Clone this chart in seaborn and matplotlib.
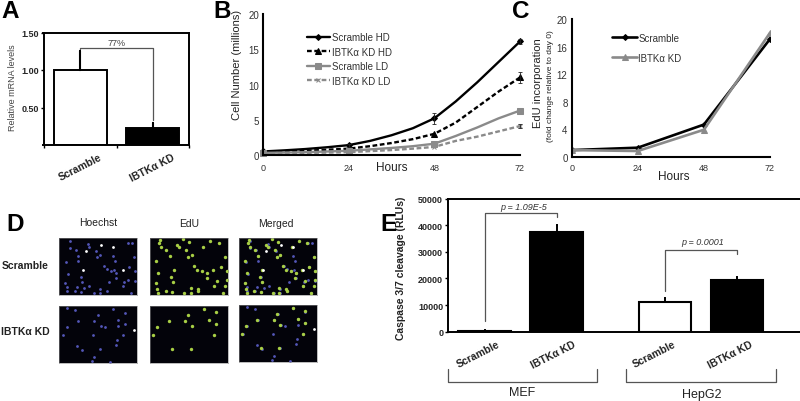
#!/usr/bin/env python3
# -*- coding: utf-8 -*-

import matplotlib
matplotlib.use("Agg")
import matplotlib.pyplot as plt
from matplotlib.lines import Line2D
import seaborn as sns

# panel A
a_labels = ["Scramble", "IBTKα KD"]
a_values = [1.00, 0.23]
a_errors = [0.25, 0.07]

# panel B, values read at 6 h steps so the curved lines follow the picture
b_hours = [0, 6, 12, 18, 24, 30, 36, 42, 48, 54, 60, 66, 72]
b_scr_hd = [0.5, 0.66, 0.85, 1.1, 1.4, 2.0, 2.8, 3.8, 5.2, 7.6, 10.3, 13.2, 16.1]
b_kd_hd = [0.4, 0.5, 0.6, 0.75, 0.9, 1.25, 1.7, 2.25, 3.0, 4.6, 6.8, 9.0, 11.0]
b_scr_ld = [0.3, 0.35, 0.4, 0.5, 0.6, 0.8, 1.0, 1.25, 1.6, 2.7, 3.9, 5.2, 6.3]
b_kd_ld = [0.2, 0.25, 0.3, 0.35, 0.4, 0.55, 0.7, 0.9, 1.15, 2.0, 2.6, 3.35, 4.1]
b_err_hours = [24, 48, 72, 72, 72]
b_err_values = [1.4, 5.2, 16.1, 11.0, 4.1]
b_err_sizes = [0.2, 0.8, 0.3, 0.8, 0.3]

# panel C
c_hours = [0, 24, 48, 72]
c_scramble = [1.0, 1.35, 4.7, 17.1]
c_kd = [1.0, 0.87, 3.95, 18.0]

# panel D, nuclei
d_hoechst_scr = [(45, 22), (45, 42), (63, 48), (97, 30), (100, 38), (122, 50), (217, 28), (230, 28),
                 (70, 65), (68, 80), (125, 70), (135, 63), (172, 67), (178, 80), (237, 68), (33, 83),
                 (145, 97), (155, 105), (168, 112), (177, 108), (183, 118), (222, 98), (240, 110),
                 (40, 120), (78, 128), (82, 143), (182, 133), (160, 143), (218, 138), (207, 145),
                 (203, 157), (30, 148), (35, 160), (65, 158), (87, 162), (100, 155), (37, 170),
                 (60, 172), (78, 175), (115, 178), (133, 165), (135, 178), (155, 170), (228, 178),
                 (240, 140)]
d_hoechst_scr_bright = [(92, 50), (138, 32), (83, 108), (203, 108), (173, 38)]
d_edu_scr = [(42, 18), (38, 28), (45, 40), (60, 48), (70, 65), (93, 32), (97, 40), (118, 48),
             (128, 25), (110, 15), (170, 38), (190, 22), (215, 27), (235, 68), (125, 70), (135, 63),
             (30, 82), (82, 108), (143, 97), (152, 107), (167, 112), (182, 118), (200, 108),
             (222, 98), (240, 110), (75, 128), (80, 143), (36, 118), (180, 133), (240, 138),
             (210, 140), (203, 157), (30, 148), (33, 166), (35, 178), (58, 172), (78, 175),
             (113, 178), (132, 163), (132, 178), (153, 165), (155, 172), (235, 155), (228, 178)]
d_hoechst_kd = [(35, 18), (60, 25), (127, 38), (173, 22), (210, 32), (68, 58), (115, 58), (188, 53),
                (210, 65), (35, 75), (137, 73), (148, 75), (187, 73), (25, 100), (113, 100),
                (203, 100), (185, 115), (183, 130), (65, 132), (80, 143), (133, 140), (115, 165),
                (110, 176), (165, 180)]
d_hoechst_kd_bright = [(237, 85)]
d_edu_kd = [(125, 38), (173, 20), (208, 30), (67, 58), (115, 58), (188, 53), (208, 66), (33, 74),
            (135, 73), (22, 100), (202, 98), (78, 142), (132, 140)]

# panel E
e_groups = ["Scramble", "IBTKα KD", "Scramble", "IBTKα KD"]
e_slots = [0, 1, 2.5, 3.5]
e_values = [100, 37300, 11200, 19300]
e_errors = [700, 2700, 1300, 1300]

W, H = 800, 402
GRAY = "#8a8a8a"
DGRAY = "#555555"
BLUE = "#5356b8"
GREEN = "#a8cf45"
SHORT_DASH = (0, (2.0, 1.1))

sns.set_theme(style="white")
plt.rcParams["font.family"] = ["Liberation Sans", "DejaVu Sans"]
plt.rcParams["xtick.bottom"] = True
plt.rcParams["ytick.left"] = True

fig = plt.figure(figsize=(W / 100, H / 100), dpi=100, facecolor="white")


def axes_px(left, top, right, bottom):
    return fig.add_axes([left / W, 1 - bottom / H, (right - left) / W, (bottom - top) / H])


def text_px(x, y, s, size=7, **kw):
    kw.setdefault("ha", "center")
    kw.setdefault("va", "center")
    kw.setdefault("color", "#222222")
    fig.text(x / W, 1 - y / H, s, fontsize=size, **kw)


def line_px(xs, ys, color=DGRAY, lw=0.9):
    fig.add_artist(Line2D([x / W for x in xs], [1 - y / H for y in ys], color=color, lw=lw))


def style_spines(ax, lw, sides=("left", "bottom")):
    for name, spine in ax.spines.items():
        spine.set_visible(name in sides)
        spine.set_linewidth(lw)
        spine.set_color("black")


# =========================
# A
# =========================
ax = axes_px(43.5, 33.5, 189, 146)
sns.barplot(x=a_labels, y=a_values, hue=a_labels, palette=["white", "black"], width=0.73,
            edgecolor="black", linewidth=1.4, legend=False, ax=ax)
ax.errorbar([0, 1], a_values, yerr=[[0, 0], a_errors], fmt="none", ecolor="black", elinewidth=1.5,
            capsize=1, capthick=1.5)
ax.set_xlim(-0.51, 1.5)
ax.set_ylim(0, 1.5)
ax.set_yticks([0.5, 1.0, 1.5], ["0.50", "1.00", "1.50"], fontsize=6.5, fontweight="bold")
ax.set_xticks([-0.5, 0.5, 1.5], ["", "", ""])
ax.tick_params(length=2, width=1, pad=1.5, color="black")
style_spines(ax, 1.4, ("left", "bottom", "top", "right"))
ax.plot([0, 0, 1, 1], [1.28, 1.3, 1.3, 0.33], color=DGRAY, lw=0.9)
ax.text(0.5, 1.37, "77%", ha="center", va="center", fontsize=6.5, color="#444444")
text_px(13, 88, "Relative mRNA levels", size=6.5, rotation=90, color="#444444")
text_px(80, 168, a_labels[0], size=7.5, fontweight="bold", rotation=27)
text_px(152, 168, a_labels[1], size=7.5, fontweight="bold", rotation=27)

# =========================
# B
# =========================
ax = axes_px(263, 15, 520, 156)
b_series = [
    ("Scramble HD", b_scr_hd, "black", "-", "D", 3),
    ("IBTKα KD HD", b_kd_hd, "black", SHORT_DASH, "^", 4.5),
    ("Scramble LD", b_scr_ld, GRAY, "-", "s", 4),
    ("IBTKα KD LD", b_kd_ld, GRAY, SHORT_DASH, "x", 3.5),
]
for name, vals, col, ls, mk, ms in b_series:
    sns.lineplot(x=b_hours, y=vals, color=col, linestyle=ls, marker=mk, markersize=ms,
                 markevery=[0, 4, 8, 12], markeredgecolor=col, linewidth=1.7, label=name,
                 clip_on=False, errorbar=None, ax=ax)
ax.errorbar(b_err_hours, b_err_values, yerr=b_err_sizes, fmt="none", ecolor="#222222",
            elinewidth=0.6, capsize=1.5, capthick=0.6, clip_on=False)
ax.set_xlim(0, 72)
ax.set_ylim(0, 20)
ax.set_xticks(c_hours, ["0", "24", "48", "72"], fontsize=6.5)
ax.set_yticks([0, 5, 10, 15, 20], ["0", "5", "10", "15", "20"], fontsize=7)
ax.tick_params(axis="x", length=0, pad=6, labelcolor="#333333")
ax.tick_params(axis="y", length=0, pad=3, labelcolor="#333333")
style_spines(ax, 1.5)
ax.legend(loc="upper left", bbox_to_anchor=(0.172, 0.871), frameon=False, fontsize=7, labelspacing=0.46,
          handlelength=2.3, handletextpad=0.2, borderpad=0, borderaxespad=0,
          labelcolor="#333333")
text_px(392, 168, "Hours", size=8.5)
text_px(237, 65, "Cell Number (millions)", size=8, rotation=90)

# =========================
# C
# =========================
ax = axes_px(571.7, 20, 770, 158)
sns.lineplot(x=c_hours, y=c_scramble, color="black", marker="D", markersize=3, linewidth=1.9,
             markeredgecolor="black", label="Scramble", errorbar=None, ax=ax)
sns.lineplot(x=c_hours, y=c_kd, color=GRAY, marker="^", markersize=4, linewidth=1.9,
             markeredgecolor=GRAY, label="IBTKα KD", errorbar=None, ax=ax)
ax.set_xlim(0, 72)
ax.set_ylim(0, 20)
ax.set_xticks(c_hours, ["0", "24", "48", "72"], fontsize=6.5)
ax.set_yticks([0, 4, 8, 12, 16, 20], ["0", "4", "8", "12", "16", "20"], fontsize=7)
ax.tick_params(axis="x", length=0, pad=4, labelcolor="#333333")
ax.tick_params(axis="y", length=0, pad=3, labelcolor="#333333")
style_spines(ax, 1.5)
ax.legend(loc="upper left", bbox_to_anchor=(0.205, 0.90), frameon=False, fontsize=7, labelspacing=1.03,
          handlelength=2.5, handletextpad=0.15, borderpad=0, borderaxespad=0,
          labelcolor="#333333")
text_px(674, 177, "Hours", size=8.5)
text_px(538, 83, "EdU incorporation", size=8, rotation=90)
text_px(550, 86, "(fold change relative to day 0)", size=6, rotation=90)


# =========================
# D
# =========================
def nuclei(ax, points, color, size):
    if points:
        sns.scatterplot(x=[p[0] for p in points], y=[p[1] for p in points], color=color, s=size,
                        linewidth=0, ax=ax)


d_rows = [
    (239, 239, d_hoechst_scr, d_hoechst_scr_bright, d_edu_scr),
    (307, 306, d_hoechst_kd, d_hoechst_kd_bright, d_edu_kd),
]
for top, merged_top, blue, bright, green in d_rows:
    panels = [
        (59, 136.5, top, blue, bright, []),
        (150, 228, top, [], [], green),
        (239, 316.5, merged_top, blue, bright, green),
    ]
    for left, right, t, bl, br, gr in panels:
        ax = axes_px(left, t, right, t + 57)
        ax.set_facecolor("#03030a")
        nuclei(ax, bl, BLUE, 4)
        nuclei(ax, gr, GREEN, 6)
        nuclei(ax, br, "#ffffff", 4)
        ax.set_xlim(12, 243)
        ax.set_ylim(183, 12)
        ax.set_xticks([])
        ax.set_yticks([])
        style_spines(ax, 0.4, ("left", "bottom", "top", "right"))
        for s in ax.spines.values():
            s.set_color("#888888")

text_px(98, 223, "Hoechst", size=7.5)
text_px(189, 224, "EdU", size=7.5)
text_px(276, 224, "Merged", size=7.5)
text_px(25.5, 266, "Scramble", size=7.5, fontweight="bold")
text_px(25.5, 332, "IBTKα KD", size=7.5, fontweight="bold")

# =========================
# E
# =========================
ax = axes_px(448, 199.5, 801, 332.7)
sns.barplot(x=e_slots, y=e_values, hue=e_groups, palette={"Scramble": "white", "IBTKα KD": "black"},
            native_scale=True, dodge=False, width=0.73, edgecolor="black", linewidth=1.5,
            legend=False, ax=ax)
ax.errorbar(e_slots, e_values, yerr=[[0] * 4, e_errors], fmt="none", ecolor="black", elinewidth=1.4,
            capsize=1, capthick=1.4)
ax.set_xlim(-0.51, 4.39)
ax.set_ylim(0, 50000)
ax.set_xticks([])
ax.set_yticks(range(0, 50001, 10000), [str(v) for v in range(0, 50001, 10000)], fontsize=6.5,
              fontweight="bold")
ax.tick_params(length=2, width=1, pad=1.5, color="black")
style_spines(ax, 1.4, ("left", "bottom", "top", "right"))
ax.plot([0, 0, 1, 1], [4000, 44500, 44500, 43000], color=DGRAY, lw=0.9)
ax.plot([2.5, 2.5, 3.5, 3.5], [15400, 30600, 30600, 29200], color=DGRAY, lw=0.9)
ax.text(0.54, 46900, "p = 1.09E-5", ha="center", va="center", fontsize=6.5, style="italic", color="#333333")
ax.text(3.03, 33900, "p = 0.0001", ha="center", va="center", fontsize=6.5, style="italic", color="#333333")
text_px(401, 268, "Caspase 3/7 cleavage (RLUs)", size=7.5, fontweight="bold", rotation=90)
for x, name in zip([478, 553, 654, 730], e_groups):
    text_px(x, 355, name, size=7.5, fontweight="bold", rotation=27)
line_px([448, 448, 597, 597], [370, 383, 383, 370])
line_px([626, 626, 776, 776], [370, 383, 383, 370])
text_px(522, 393, "MEF", size=9)
text_px(702, 395, "HepG2", size=9)

# panel letters
for x, y, letter in [(10, 11, "A"), (222, 11, "B"), (521, 11, "C"), (15, 225, "D"), (388, 225, "E")]:
    text_px(x, y, letter, size=17.5, fontweight="bold", color="black")

fig.savefig("out.png", dpi=100, facecolor="white")
